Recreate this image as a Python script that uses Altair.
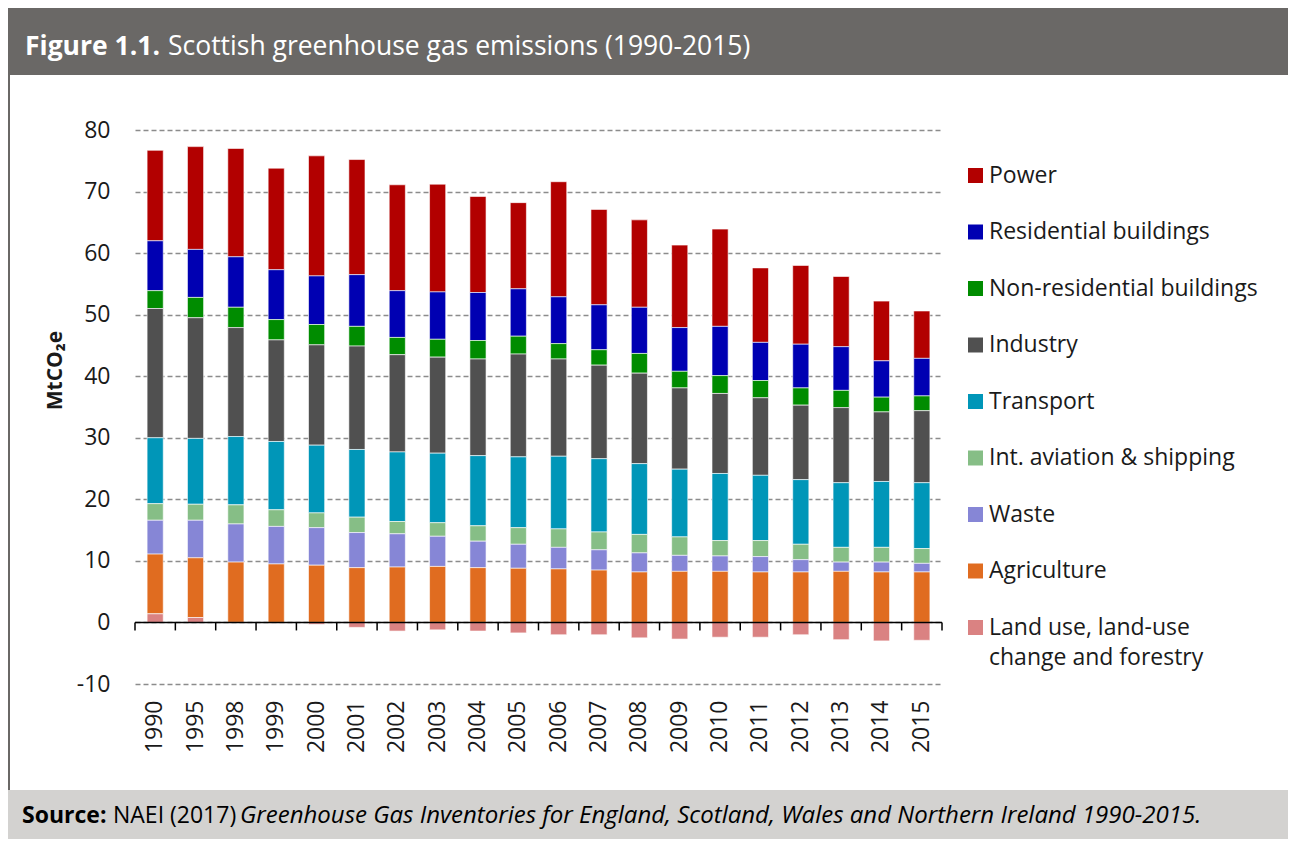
import altair as alt
import pandas as pd

years = ["1990", "1995", "1998", "1999", "2000", "2001", "2002", "2003", "2004", "2005",
         "2006", "2007", "2008", "2009", "2010", "2011", "2012", "2013", "2014", "2015"]

sectors = ["Power", "Residential buildings", "Non-residential buildings", "Industry",
           "Transport", "Int. aviation & shipping", "Waste", "Agriculture",
           "Land use, land-use change and forestry"]
colors = ["#b20000", "#0000b2", "#008c00", "#505050", "#0096b8",
          "#86be86", "#8686d6", "#e06c20", "#da8282"]

power = [14.7, 16.7, 17.6, 16.5, 19.5, 18.7, 17.2, 17.5, 15.6, 14.0,
         18.7, 15.5, 14.2, 13.4, 15.8, 12.1, 12.8, 11.4, 9.7, 7.7]
residential = [8.1, 7.8, 8.2, 8.1, 7.9, 8.4, 7.6, 7.7, 7.8, 7.7,
               7.6, 7.3, 7.5, 7.1, 8.0, 6.2, 7.1, 7.1, 5.9, 6.1]
non_residential = [2.9, 3.3, 3.3, 3.3, 3.3, 3.2, 2.8, 2.9, 3.0, 2.9,
                   2.5, 2.5, 3.2, 2.7, 2.9, 2.8, 2.8, 2.8, 2.4, 2.4]
industry = [21.0, 19.6, 17.7, 16.5, 16.3, 16.8, 15.8, 15.6, 15.7, 16.7,
            15.8, 15.2, 14.7, 13.2, 13.0, 12.6, 12.1, 12.2, 11.3, 11.7]
transport = [10.7, 10.7, 11.1, 11.1, 11.0, 11.0, 11.3, 11.3, 11.4, 11.5,
             11.8, 11.9, 11.5, 11.0, 10.9, 10.6, 10.5, 10.5, 10.7, 10.7]
aviation_shipping = [2.7, 2.6, 3.1, 2.7, 2.4, 2.5, 2.0, 2.2, 2.5, 2.7,
                     3.0, 2.9, 3.0, 3.0, 2.5, 2.6, 2.5, 2.4, 2.4, 2.4]
waste = [5.5, 6.1, 6.2, 6.1, 6.1, 5.7, 5.4, 4.9, 4.3, 3.9,
         3.5, 3.3, 3.1, 2.6, 2.5, 2.5, 2.0, 1.5, 1.6, 1.4]
agriculture = [9.7, 9.7, 9.8, 9.5, 9.3, 8.9, 9.0, 9.1, 8.9, 8.8,
               8.7, 8.5, 8.2, 8.3, 8.3, 8.2, 8.2, 8.3, 8.2, 8.2]
lulucf = [1.4, 0.8, 0.0, -0.1, -0.3, -0.8, -1.4, -1.2, -1.4, -1.7,
          -2.0, -2.0, -2.5, -2.7, -2.4, -2.4, -2.0, -2.8, -3.0, -2.9]

series = [power, residential, non_residential, industry, transport,
          aviation_shipping, waste, agriculture, lulucf]

rows = []
for s_idx, (name, vals) in enumerate(zip(sectors, series)):
    for y, v in zip(years, vals):
        # stack order: land use at the bottom, power on top
        rows.append({"year": y, "sector": name, "value": v,
                     "stack_order": len(sectors) - 1 - s_idx})
df = pd.DataFrame(rows)
year_df = pd.DataFrame({"year": years})
last_df = pd.DataFrame({"year": [years[-1]]})
one = pd.DataFrame({"k": [0]})

FONT = "Open Sans"
TXT = "#1a1a1a"
HEAD = "#6a6866"
FOOT = "#d3d2d0"
W, H = 807, 554

label_expr = ("datum.label == 'Land use, land-use change and forestry' ? "
              "['Land use, land-use', 'change and forestry'] : datum.label")

bars = alt.Chart(df).mark_bar(stroke="white", strokeWidth=0.6).encode(
    x=alt.X("year:N", sort=years,
            scale=alt.Scale(paddingInner=0.6, paddingOuter=0.3),
            axis=alt.Axis(title=None, domain=False, ticks=False, grid=False,
                          labelAngle=270, labelFontSize=23, labelFont=FONT,
                          labelColor=TXT, labelPadding=16)),
    y=alt.Y("value:Q", stack="zero",
            scale=alt.Scale(domain=[-10, 80], nice=False, zero=False),
            axis=alt.Axis(values=list(range(-10, 81, 10)), title="MtCO₂e",
                          labelExpr="'' + datum.value",
                          domain=False, ticks=False, grid=True,
                          gridColor="#8c8c8c", gridDash=[5, 3], gridWidth=1.5,
                          labelFontSize=23, labelFont=FONT, labelColor=TXT,
                          labelPadding=25,
                          titleFont=FONT, titleFontSize=21, titleFontWeight="bold",
                          titleColor=TXT, titleAngle=270, titleX=-80, titleY=240,
                          titleAlign="center", titleBaseline="middle")),
    color=alt.Color("sector:N", scale=alt.Scale(domain=sectors, range=colors),
                    legend=alt.Legend(title=None, orient="none", legendX=829, legendY=34,
                                      symbolType="square", symbolSize=225,
                                      symbolStrokeWidth=0, labelFontSize=23,
                                      labelFont=FONT, labelColor=TXT, labelOffset=2,
                                      rowPadding=32.5, labelLimit=400, padding=0,
                                      labelExpr=label_expr)),
    order=alt.Order("stack_order:Q", sort="ascending"),
)

zero_line = alt.Chart(one).mark_rule(color="black", strokeWidth=1.5).encode(
    y=alt.datum(0))

ticks = alt.Chart(year_df).mark_rule(color="black", strokeWidth=1.5, y2Offset=8).encode(
    x=alt.X("year:N", sort=years, bandPosition=0,
            scale=alt.Scale(domain=years, paddingInner=0, paddingOuter=0), axis=None),
    y=alt.datum(0), y2=alt.datum(0))

end_tick = alt.Chart(last_df).mark_rule(color="black", strokeWidth=1.5, y2Offset=8).encode(
    x=alt.X("year:N", bandPosition=1,
            scale=alt.Scale(domain=years, paddingInner=0, paddingOuter=0), axis=None),
    y=alt.datum(0), y2=alt.datum(0))

header = alt.Chart(one).mark_rect(color=HEAD).encode(
    x=alt.value(-127), x2=alt.value(1153), y=alt.value(-122), y2=alt.value(-55))
left_border = alt.Chart(one).mark_rect(color=HEAD).encode(
    x=alt.value(-127), x2=alt.value(-125), y=alt.value(-55), y2=alt.value(660))
footer = alt.Chart(one).mark_rect(color=FOOT).encode(
    x=alt.value(-127), x2=alt.value(1153), y=alt.value(660), y2=alt.value(709))

title_bold = alt.Chart(one).mark_text(
    align="left", baseline="alphabetic", font=FONT, fontSize=26.5,
    fontWeight="bold", color="white").encode(
    x=alt.value(-110), y=alt.value(-75), text=alt.value("Figure 1.1."))
title_rest = alt.Chart(one).mark_text(
    align="left", baseline="alphabetic", font=FONT, fontSize=26.5, color="white").encode(
    x=alt.value(33), y=alt.value(-75),
    text=alt.value("Scottish greenhouse gas emissions (1990-2015)"))

src_bold = alt.Chart(one).mark_text(
    align="left", baseline="alphabetic", font=FONT, fontSize=23,
    fontWeight="bold", color="black").encode(
    x=alt.value(-113), y=alt.value(693), text=alt.value("Source:"))
src_reg = alt.Chart(one).mark_text(
    align="left", baseline="alphabetic", font=FONT, fontSize=23, color="black").encode(
    x=alt.value(-22), y=alt.value(693), text=alt.value("NAEI (2017)"))
src_ital = alt.Chart(one).mark_text(
    align="left", baseline="alphabetic", font=FONT, fontSize=24,
    fontStyle="italic", color="black").encode(
    x=alt.value(105), y=alt.value(693),
    text=alt.value("Greenhouse Gas Inventories for England, Scotland, Wales and Northern Ireland 1990-2015."))

chart = alt.layer(
    header, left_border, footer, bars, zero_line, ticks, end_tick,
    title_bold, title_rest, src_bold, src_reg, src_ital
).resolve_scale(x="independent").properties(
    width=W, height=H, padding=0, background="white"
).configure(
    style={"guide-label": {"lineHeight": 30}}
).configure_view(stroke=None)

chart.save("out.html", embed_options={"renderer": "svg", "actions": False})
